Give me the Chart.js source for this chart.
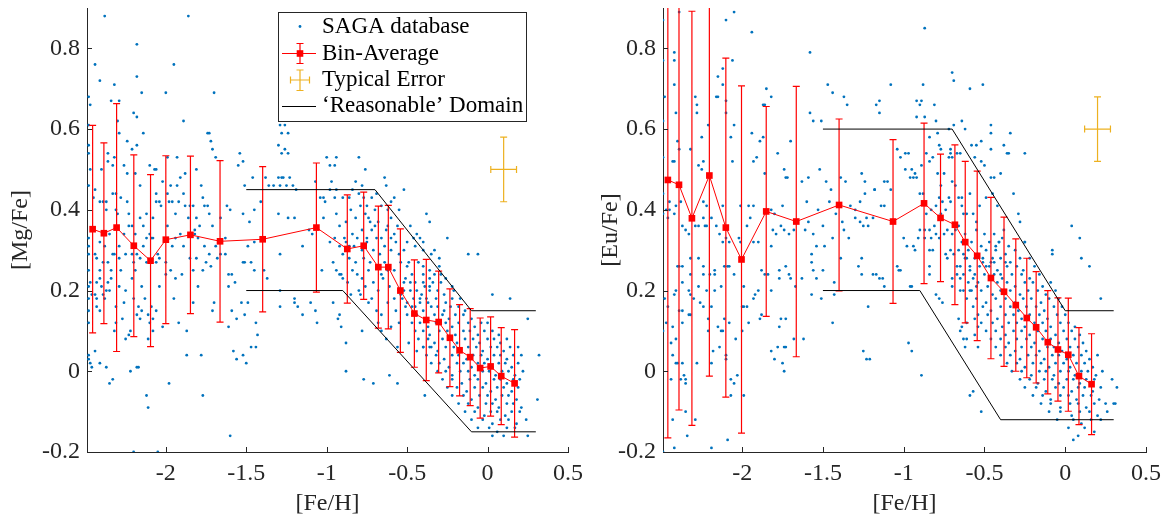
<!DOCTYPE html>
<html>
<head>
<meta charset="utf-8">
<script src="https://cdn.jsdelivr.net/npm/chart.js@4.4.1/dist/chart.umd.min.js"></script>
<style>
  html, body { margin: 0; padding: 0; background: #fff; }
  #wrap { position: relative; width: 1173px; height: 519px; }
  canvas { position: absolute; top: 0; }
  #mgChart { left: 0; }
  #euChart { left: 590px; }
</style>
</head>
<body>
<div id="wrap">
  <canvas id="mgChart" width="592" height="519"></canvas>
  <canvas id="euChart" width="583" height="519"></canvas>
</div>
<script>
// Axis ranges and ticks
const xMin = -2.49, xMax = 0.5;
const yMin = -0.2, yMax = 0.9;
const xTicks = [-2, -1.5, -1, -0.5, 0, 0.5];
const yTicks = [-0.2, 0, 0.2, 0.4, 0.6, 0.8];

// Bin averages for [Mg/Fe]
const mgBinFeH = [-2.455, -2.385, -2.306, -2.199, -2.095, -2.0, -1.847, -1.663, -1.398, -1.064, -0.872, -0.770, -0.679, -0.617, -0.542, -0.455, -0.381, -0.304, -0.234, -0.174, -0.108, -0.046, 0.019, 0.085, 0.168];
const mgBinMean = [0.352, 0.342, 0.356, 0.311, 0.274, 0.326, 0.338, 0.322, 0.327, 0.356, 0.303, 0.311, 0.258, 0.258, 0.200, 0.143, 0.127, 0.122, 0.083, 0.052, 0.035, 0.008, 0.012, -0.012, -0.030];
const mgBinErr = [0.257, 0.224, 0.307, 0.225, 0.213, 0.208, 0.195, 0.200, 0.180, 0.160, 0.134, 0.133, 0.151, 0.153, 0.153, 0.133, 0.150, 0.126, 0.121, 0.113, 0.120, 0.124, 0.123, 0.120, 0.133];

// Bin averages for [Eu/Fe]
const euBinFeH = [-2.46, -2.391, -2.311, -2.203, -2.101, -2.004, -1.851, -1.665, -1.40, -1.066, -0.874, -0.772, -0.683, -0.619, -0.545, -0.46, -0.379, -0.306, -0.238, -0.18, -0.108, -0.045, 0.019, 0.085, 0.163];
const euBinMean = [0.474, 0.462, 0.379, 0.485, 0.356, 0.277, 0.396, 0.371, 0.412, 0.371, 0.416, 0.380, 0.363, 0.320, 0.286, 0.231, 0.197, 0.164, 0.132, 0.109, 0.072, 0.054, 0.041, -0.012, -0.032];
const euBinErr = [0.639, 0.558, 0.513, 0.497, 0.42, 0.43, 0.26, 0.335, 0.213, 0.203, 0.199, 0.158, 0.198, 0.20, 0.21, 0.20, 0.185, 0.164, 0.148, 0.138, 0.128, 0.128, 0.14, 0.12, 0.125];

// 'Reasonable' domain corners
const mgDomainUpperX = [-1.5, -0.7, -0.1, 0.3];
const mgDomainUpperY = [0.45, 0.45, 0.15, 0.15];
const mgDomainLowerX = [-1.5, -0.9, -0.1, 0.3];
const mgDomainLowerY = [0.2, 0.2, -0.15, -0.15];
const euDomainUpperX = [-1.5, -0.7, 0.0, 0.3];
const euDomainUpperY = [0.6, 0.6, 0.15, 0.15];
const euDomainLowerX = [-1.5, -0.9, -0.4, 0.3];
const euDomainLowerY = [0.2, 0.2, -0.12, -0.12];

// Typical error: [x, y, dx, dy]
const mgTypical = [0.1, 0.5, 0.08, 0.08];
const euTypical = [0.2, 0.6, 0.08, 0.08];

// SAGA database stars, [Fe/H] vs [Mg/Fe]
const sagaMg = [
  [-2.38,0.88],[-1.86,0.88],[-2.18,0.81],[-2.44,0.76],[-1.95,0.76],[-2.41,0.72],[-2.32,0.71],[-2.18,0.73],[-2.48,0.68],[-2.47,0.66],
  [-2.15,0.69],[-2.00,0.69],[-1.70,0.69],[-2.34,0.67],[-2.29,0.67],[-2.20,0.64],[-2.18,0.63],[-1.89,0.62],[-2.48,0.61],[-2.30,0.62],
  [-2.29,0.59],[-2.14,0.59],[-1.74,0.59],[-1.73,0.59],[-2.24,0.57],[-2.21,0.55],[-2.18,0.56],[-1.72,0.57],[-1.71,0.55],[-2.48,0.56],
  [-2.48,0.54],[-2.36,0.54],[-2.36,0.52],[-2.32,0.53],[-1.99,0.53],[-1.93,0.53],[-1.69,0.53],[-1.54,0.54],[-1.52,0.52],[-1.55,0.51],
  [-2.33,0.51],[-2.26,0.51],[-2.10,0.51],[-2.07,0.50],[-2.06,0.50],[-2.47,0.50],[-2.40,0.50],[-2.24,0.49],[-2.19,0.49],[-1.88,0.49],
  [-1.81,0.50],[-2.48,0.46],[-2.44,0.45],[-2.45,0.43],[-2.41,0.42],[-2.39,0.42],[-2.37,0.42],[-2.37,0.40],[-2.33,0.44],[-2.31,0.44],
  [-2.31,0.40],[-2.30,0.39],[-2.28,0.43],[-2.24,0.42],[-2.23,0.39],[-2.23,0.36],[-2.21,0.36],[-2.16,0.46],[-2.16,0.38],[-2.14,0.36],
  [-2.12,0.39],[-2.10,0.34],[-2.09,0.33],[-2.08,0.38],[-2.06,0.44],[-2.06,0.42],[-2.04,0.42],[-2.03,0.41],[-2.02,0.47],[-1.99,0.44],
  [-1.98,0.42],[-1.97,0.46],[-1.96,0.42],[-1.94,0.39],[-1.93,0.46],[-1.92,0.42],[-1.91,0.48],[-1.89,0.44],[-1.88,0.41],[-1.86,0.38],
  [-1.85,0.41],[-1.83,0.41],[-1.81,0.38],[-1.78,0.46],[-1.77,0.43],[-1.76,0.41],[-1.74,0.41],[-1.73,0.39],[-1.82,0.35],[-1.79,0.36],
  [-1.71,0.36],[-1.66,0.38],[-1.62,0.41],[-1.60,0.40],[-1.63,0.33],[-1.52,0.39],[-1.51,0.46],[-1.46,0.48],[-1.48,0.37],[-1.49,0.31],
  [-1.45,0.40],[-1.41,0.42],[-1.38,0.48],[-1.36,0.46],[-1.33,0.46],[-1.30,0.48],[-1.29,0.46],[-1.28,0.48],[-1.25,0.46],[-1.30,0.39],
  [-1.24,0.38],[-1.30,0.56],[-1.28,0.54],[-1.29,0.61],[-1.28,0.59],[-1.45,0.32],[-2.48,0.33],[-2.48,0.31],[-2.44,0.29],[-2.41,0.32],
  [-2.38,0.31],[-2.35,0.34],[-2.33,0.29],[-2.29,0.31],[-2.26,0.34],[-2.25,0.29],[-2.19,0.34],[-2.18,0.29],[-2.14,0.31],[-2.12,0.33],
  [-2.08,0.33],[-2.05,0.29],[-2.04,0.28],[-1.99,0.36],[-1.96,0.31],[-1.94,0.33],[-1.91,0.34],[-1.89,0.31],[-1.82,0.34],[-1.80,0.33],
  [-1.76,0.31],[-1.73,0.29],[-1.69,0.31],[-1.66,0.29],[-2.48,0.29],[-2.43,0.28],[-2.39,0.27],[-2.36,0.27],[-2.32,0.29],[-2.29,0.28],
  [-2.21,0.29],[-2.16,0.28],[-2.12,0.27],[-2.06,0.27],[-2.00,0.27],[-1.97,0.25],[-1.94,0.23],[-1.90,0.24],[-1.85,0.28],[-1.83,0.25],
  [-1.81,0.28],[-1.77,0.25],[-1.75,0.27],[-1.72,0.26],[-1.68,0.28],[-1.63,0.29],[-1.61,0.24],[-1.59,0.24],[-1.61,0.21],[-1.57,0.22],
  [-1.52,0.27],[-1.51,0.27],[-1.47,0.27],[-1.45,0.25],[-1.39,0.25],[-1.37,0.23],[-1.29,0.29],[-1.29,0.20],[-1.29,0.16],[-1.20,0.18],
  [-1.18,0.16],[-2.48,0.25],[-2.48,0.21],[-2.48,0.18],[-2.48,0.15],[-2.48,0.12],[-2.47,0.22],[-2.46,0.19],[-2.44,0.19],[-2.43,0.18],
  [-2.43,0.16],[-2.43,0.22],[-2.41,0.25],[-2.41,0.15],[-2.41,0.23],[-2.40,0.21],[-2.39,0.19],[-2.38,0.18],[-2.37,0.20],[-2.36,0.22],
  [-2.35,0.20],[-2.34,0.25],[-2.34,0.23],[-2.32,0.10],[-2.31,0.12],[-2.31,0.16],[-2.29,0.21],[-2.28,0.25],[-2.27,0.13],[-2.26,0.17],
  [-2.25,0.08],[-2.25,0.20],[-2.23,0.09],[-2.22,0.10],[-2.21,0.23],[-2.20,0.27],[-2.20,0.18],[-2.19,0.25],[-2.18,0.14],[-2.17,0.16],
  [-2.16,0.13],[-2.15,0.15],[-2.15,0.21],[-2.13,0.18],[-2.11,0.14],[-2.11,0.08],[-2.10,0.12],[-2.09,0.16],[-2.08,0.13],[-2.08,0.10],
  [-2.06,0.15],[-2.04,0.21],[-2.02,0.11],[-2.00,0.24],[-1.95,0.18],[-1.92,0.12],[-1.87,0.10],[-1.83,0.17],[-1.80,0.21],[-1.71,0.15],
  [-1.70,0.17],[-1.61,0.11],[-1.59,0.15],[-1.56,0.13],[-1.53,0.17],[-1.51,0.14],[-1.49,0.17],[-2.48,0.04],[-2.48,0.03],[-2.47,0.02],
  [-2.46,0.01],[-2.44,0.05],[-2.41,0.02],[-2.37,0.01],[-2.35,-0.03],[-2.33,-0.02],[-2.22,0.00],[-2.18,0.01],[-2.17,0.01],[-2.12,-0.06],
  [-2.11,-0.09],[-2.20,-0.20],[-2.05,-0.20],[-1.98,-0.03],[-1.87,0.04],[-1.78,0.04],[-1.77,-0.06],[-1.60,-0.16],[-1.58,0.05],[-1.56,0.03],
  [-1.52,0.04],[-1.50,0.02],[-1.44,0.06],[-1.43,0.09],[-1.44,0.12],[-1.47,0.06],
  [-1.00,0.53],[-0.94,0.53],[-0.98,0.51],[-0.95,0.51],[-0.97,0.47],[-0.94,0.45],[-0.98,0.45],[-1.02,0.43],[-0.95,0.43],[-0.90,0.43],
  [-0.86,0.43],[-0.80,0.53],[-0.76,0.50],[-0.78,0.46],[-0.82,0.47],[-0.77,0.43],[-0.72,0.43],[-0.69,0.44],[-1.02,0.38],[-0.94,0.39],
  [-0.95,0.33],[-0.89,0.33],[-0.84,0.34],[-0.81,0.33],[-0.78,0.35],[-0.75,0.33],[-0.72,0.35],[-0.69,0.33],[-0.66,0.33],[-0.63,0.35],
  [-0.60,0.33],[-0.57,0.32],[-0.98,0.32],[-0.92,0.31],[-0.88,0.32],[-0.83,0.31],[-0.75,0.32],[-0.71,0.30],[-0.67,0.29],[-0.64,0.31],
  [-0.60,0.30],[-0.55,0.29],[-0.52,0.30],[-0.49,0.27],[-0.46,0.33],[-0.42,0.33],[-0.91,0.24],[-0.90,0.23],[-0.84,0.25],[-0.81,0.24],
  [-0.78,0.23],[-0.74,0.25],[-0.71,0.22],[-0.65,0.23],[-0.61,0.21],[-0.58,0.25],[-0.51,0.23],[-0.48,0.22],[-0.44,0.20],[-0.40,0.22],
  [-0.36,0.21],[-0.85,0.19],[-0.80,0.20],[-0.79,0.19],[-0.74,0.17],[-0.69,0.15],[-0.66,0.14],[-0.62,0.17],[-0.58,0.18],[-0.54,0.19],
  [-0.50,0.17],[-0.47,0.16],[-0.42,0.18],[-0.37,0.17],[-0.93,0.13],[-0.91,0.11],[-0.78,0.10],[-0.88,0.07],[-0.66,0.10],[-0.63,0.08],
  [-0.56,0.06],[-0.49,0.07],[-0.44,0.05],[-0.40,0.06],[-0.36,0.06],[-1.26,0.61],[-1.24,0.59],[-1.26,0.55],[-1.24,0.54],[-1.27,0.48],
  [-1.23,0.48],[-1.21,0.46],[-1.19,0.45],[-1.07,0.47],[-1.04,0.43],[-1.01,0.42],[-0.64,0.48],[-0.63,0.46],[-0.52,0.45],[-0.38,0.39],
  [-0.36,0.37],[-0.25,0.33],[-0.12,0.29],[-0.06,0.29],[-1.20,0.38],[-1.15,0.31],[-1.09,0.34],[-1.11,0.35],[-0.88,0.00],[-0.77,-0.02],
  [-0.71,-0.03],[-0.61,-0.01],[-0.56,-0.03],[-0.39,-0.06],[-1.03,0.25],[-0.94,0.25],[-0.92,0.24],[-1.20,0.17],[-1.15,0.14],[-1.10,0.17],
  [-1.07,0.15],[-1.06,0.12],[-0.96,0.17],[-0.92,0.14],[0.03,0.19],[0.14,0.18],[0.25,0.13],[0.32,0.04],[0.31,-0.07],[0.25,-0.16],
  [-0.55,0.40],[-0.60,0.38],[-0.48,0.36],[-0.44,0.34],[-0.56,0.36],[-0.50,0.32],[-0.45,0.31],[-0.40,0.30],[-0.35,0.29],[-0.30,0.28],
  [-0.40,0.32],[-0.33,0.30],[-0.58,0.43],[-0.66,0.41],[-0.70,0.40],[-0.74,0.38],[-0.68,0.37],[-0.62,0.36],[-0.58,0.34],[-0.88,0.37],
  [-0.85,0.40],[-0.82,0.38],[-0.79,0.41],[-0.76,0.39],[-0.73,0.37],[-0.70,0.36],[-0.86,0.28],[-0.82,0.27],[-0.77,0.28],[-0.73,0.27],
  [-0.69,0.26],[-0.64,0.27],[-0.62,0.25],[-0.87,0.22],[-0.76,0.21],[-0.68,0.20],[-0.66,0.24],[-0.62,0.40],[-0.60,0.42],[-0.84,0.45],
  [-0.80,0.44],[-0.75,0.41],[-0.92,0.36],[-0.90,0.29],[-0.96,0.27],[-0.86,0.31],[-0.78,0.30],[-0.54,0.27],[-0.52,0.20],[-0.57,0.15],
  [-0.55,0.12],[-0.60,0.11],[-0.68,0.12],[-0.72,0.18],
  [-0.50,0.26],[-0.43,0.27],[-0.40,0.26],[-0.36,0.25],[-0.30,0.26],[-0.47,0.24],[-0.40,0.24],[-0.36,0.23],[-0.33,0.24],[-0.29,0.24],
  [-0.26,0.23],[-0.52,0.22],[-0.45,0.22],[-0.39,0.21],[-0.34,0.22],[-0.29,0.22],[-0.22,0.21],[-0.55,0.20],[-0.48,0.20],[-0.41,0.19],
  [-0.36,0.20],[-0.31,0.20],[-0.27,0.19],[-0.21,0.20],[-0.53,0.18],[-0.46,0.18],[-0.42,0.17],[-0.38,0.18],[-0.32,0.18],[-0.26,0.17],
  [-0.22,0.18],[-0.17,0.18],[-0.51,0.16],[-0.45,0.16],[-0.40,0.15],[-0.35,0.16],[-0.31,0.16],[-0.27,0.15],[-0.23,0.16],[-0.18,0.16],
  [-0.14,0.15],[-0.50,0.14],[-0.44,0.14],[-0.39,0.13],[-0.33,0.14],[-0.28,0.14],[-0.24,0.13],[-0.20,0.14],[-0.15,0.14],[-0.10,0.13],
  [-0.47,0.12],[-0.42,0.12],[-0.37,0.11],[-0.32,0.12],[-0.26,0.12],[-0.22,0.11],[-0.18,0.12],[-0.12,0.12],[-0.08,0.11],[-0.04,0.12],
  [0.00,0.12],[-0.45,0.10],[-0.40,0.10],[-0.36,0.09],[-0.30,0.10],[-0.25,0.10],[-0.20,0.09],[-0.15,0.10],[-0.11,0.10],[-0.06,0.09],
  [-0.02,0.10],[0.03,0.10],[0.07,0.09],[-0.43,0.08],[-0.37,0.08],[-0.33,0.07],[-0.28,0.08],[-0.23,0.08],[-0.19,0.07],[-0.14,0.08],
  [-0.09,0.08],[-0.05,0.07],[0.00,0.08],[0.04,0.08],[0.08,0.07],[0.12,0.08],[-0.40,0.06],[-0.35,0.06],[-0.31,0.05],[-0.26,0.06],
  [-0.21,0.06],[-0.17,0.05],[-0.12,0.06],[-0.07,0.06],[-0.03,0.05],[0.02,0.06],[0.06,0.06],[0.10,0.05],[0.14,0.06],[0.19,0.06],
  [-0.38,0.04],[-0.32,0.04],[-0.27,0.03],[-0.22,0.04],[-0.18,0.04],[-0.13,0.03],[-0.09,0.04],[-0.04,0.04],[0.00,0.03],[0.04,0.04],
  [0.08,0.04],[0.12,0.03],[0.16,0.04],[0.21,0.04],[-0.35,0.02],[-0.30,0.02],[-0.24,0.01],[-0.19,0.02],[-0.15,0.02],[-0.10,0.01],
  [-0.06,0.02],[-0.02,0.02],[0.03,0.01],[0.07,0.02],[0.11,0.02],[0.15,0.01],[0.19,0.02],[-0.31,0.00],[-0.26,0.00],[-0.22,-0.01],
  [-0.17,0.00],[-0.12,0.00],[-0.08,-0.01],[-0.03,0.00],[0.01,0.00],[0.05,-0.01],[0.09,0.00],[0.13,0.00],[0.17,-0.01],[0.22,0.00],
  [-0.28,-0.02],[-0.22,-0.02],[-0.16,-0.03],[-0.11,-0.02],[-0.06,-0.02],[-0.01,-0.03],[0.04,-0.02],[0.08,-0.02],[0.12,-0.03],[0.16,-0.02],
  [0.20,-0.02],[-0.25,-0.04],[-0.19,-0.04],[-0.13,-0.05],[-0.08,-0.04],[-0.03,-0.04],[0.02,-0.05],[0.06,-0.04],[0.10,-0.04],[0.15,-0.05],
  [0.19,-0.04],[-0.22,-0.06],[-0.15,-0.06],[-0.10,-0.07],[-0.05,-0.06],[0.00,-0.06],[0.05,-0.07],[0.09,-0.06],[0.13,-0.06],[0.18,-0.07],
  [-0.18,-0.08],[-0.12,-0.08],[-0.06,-0.09],[-0.01,-0.08],[0.03,-0.08],[0.07,-0.09],[0.12,-0.08],[0.16,-0.08],[0.21,-0.09],[-0.14,-0.10],
  [-0.08,-0.10],[-0.02,-0.11],[0.02,-0.10],[0.06,-0.10],[0.11,-0.11],[0.15,-0.10],[0.20,-0.10],[-0.10,-0.12],[-0.03,-0.12],[0.03,-0.13],
  [0.08,-0.12],[0.13,-0.12],[0.18,-0.13],[0.24,-0.12],[-0.06,-0.14],[0.01,-0.14],[0.06,-0.15],[0.12,-0.14],[0.17,-0.14],[0.03,-0.16],
  [0.10,-0.16]
];

// SAGA database stars, [Fe/H] vs [Eu/Fe]
const sagaEu = [
  [-2.39,0.89],[-2.05,0.89],[-2.10,0.87],[-2.49,0.87],[-1.94,0.84],[-2.42,0.79],[-2.49,0.77],[-2.42,0.77],[-2.06,0.77],[-1.58,0.79],
  [-2.12,0.75],[-2.15,0.73],[-2.12,0.71],[-2.42,0.71],[-1.47,0.71],[-1.44,0.69],[-1.85,0.70],[-1.82,0.68],[-1.37,0.68],[-1.35,0.66],
  [-2.48,0.68],[-2.29,0.68],[-2.28,0.66],[-2.16,0.68],[-2.15,0.68],[-2.10,0.67],[-2.28,0.64],[-2.41,0.64],[-2.10,0.64],[-1.87,0.66],
  [-1.86,0.66],[-1.58,0.64],[-1.56,0.62],[-1.51,0.62],[-2.49,0.62],[-2.21,0.61],[-2.05,0.61],[-2.07,0.58],[-2.25,0.58],[-1.94,0.59],
  [-1.89,0.57],[-1.87,0.58],[-1.70,0.57],[-2.40,0.57],[-2.32,0.55],[-2.39,0.55],[-2.49,0.53],[-2.43,0.52],[-2.42,0.52],[-2.06,0.52],
  [-2.27,0.51],[-2.24,0.52],[-2.25,0.50],[-1.93,0.52],[-1.91,0.53],[-1.86,0.49],[-1.78,0.54],[-1.74,0.50],[-1.73,0.48],[-1.72,0.48],
  [-1.63,0.47],[-1.59,0.48],[-1.52,0.50],[-1.48,0.47],[-1.45,0.45],[-1.39,0.48],[-1.36,0.47],[-1.26,0.49],[-1.24,0.47],[-1.24,0.44],
  [-1.18,0.45],[-1.12,0.47],[-2.49,0.44],[-2.45,0.42],[-2.41,0.41],[-2.47,0.40],[-2.45,0.40],[-2.38,0.42],[-2.24,0.42],[-2.22,0.41],
  [-2.12,0.41],[-2.01,0.41],[-1.96,0.41],[-1.93,0.41],[-1.82,0.40],[-1.80,0.39],[-1.75,0.41],[-1.60,0.42],[-1.53,0.40],[-1.46,0.42],
  [-1.42,0.39],[-1.38,0.37],[-1.33,0.41],[-1.30,0.40],[-1.27,0.42],[-1.23,0.38],[-1.22,0.36],[-2.46,0.38],[-2.49,0.39],[-2.42,0.39],
  [-2.37,0.36],[-2.35,0.35],[-2.33,0.34],[-2.29,0.36],[-2.27,0.36],[-2.24,0.38],[-2.23,0.36],[-2.22,0.36],[-2.19,0.38],[-2.16,0.36],
  [-2.14,0.34],[-2.12,0.32],[-2.10,0.33],[-2.08,0.32],[-2.02,0.33],[-2.01,0.32],[-1.97,0.36],[-1.95,0.38],[-1.93,0.32],[-1.90,0.32],
  [-1.82,0.31],[-1.81,0.35],[-1.79,0.34],[-1.76,0.36],[-1.74,0.35],[-1.71,0.34],[-1.68,0.35],[-1.61,0.35],[-1.59,0.37],[-1.56,0.34],
  [-1.54,0.31],[-1.50,0.36],[-1.49,0.31],[-1.44,0.33],[-1.37,0.35],[-1.34,0.33],[-1.30,0.38],[-1.27,0.37],[-1.25,0.36],[-1.19,0.38],
  [-1.14,0.41],
  [-2.48,0.18],[-2.49,0.10],[-2.47,0.12],[-2.46,0.16],[-2.44,0.07],[-2.43,0.04],[-2.43,0.11],[-2.44,-0.02],[-2.43,-0.12],[-2.42,-0.19],
  [-2.49,-0.20],[-2.42,0.19],[-2.41,0.20],[-2.41,0.08],[-2.41,0.02],[-2.40,0.02],[-2.40,0.26],[-2.39,0.26],[-2.39,0.15],[-2.38,-0.02],
  [-2.37,0.12],[-2.37,0.15],[-2.37,0.22],[-2.37,0.26],[-2.37,0.02],[-2.36,-0.01],[-2.35,-0.02],[-2.35,-0.03],[-2.35,-0.10],[-2.34,-0.16],
  [-2.33,0.20],[-2.33,0.14],[-2.32,0.14],[-2.32,0.24],[-2.32,0.28],[-2.32,0.19],[-2.30,0.18],[-2.29,-0.12],[-2.28,0.02],[-2.27,0.21],
  [-2.27,0.28],[-2.26,0.17],[-2.24,0.16],[-2.24,0.26],[-2.24,0.24],[-2.22,0.20],[-2.21,0.10],[-2.21,0.13],[-2.20,0.24],[-2.19,0.16],
  [-2.19,0.02],[-2.19,-0.19],[-2.18,0.05],[-2.17,0.25],[-2.17,0.24],[-2.17,0.20],[-2.15,0.11],[-2.14,0.06],[-2.13,0.21],[-2.13,0.10],
  [-2.12,0.10],[-2.11,0.13],[-2.11,0.26],[-2.10,0.03],[-2.10,0.04],[-2.09,0.26],[-2.08,0.26],[-2.09,-0.17],[-2.08,0.12],[-2.07,-0.02],
  [-2.07,-0.06],[-2.05,-0.03],[-2.03,-0.01],[-2.04,0.08],[-2.05,0.24],[-2.00,0.16],[-1.99,0.16],[-1.99,0.21],[-1.99,-0.06],[-2.00,0.10],
  [-1.97,0.16],[-1.96,0.12],[-1.93,0.18],[-1.92,0.19],[-1.90,0.20],[-1.89,0.13],[-1.88,0.14],[-1.88,0.25],[-1.86,0.24],[-1.84,0.24],
  [-1.82,0.20],[-1.82,0.05],[-1.80,0.03],[-1.78,0.06],[-1.77,0.25],[-1.77,0.23],[-1.77,0.11],[-1.76,0.13],[-1.73,0.13],[-1.75,0.02],
  [-1.74,0.06],[-1.73,0.06],[-1.74,0.00],[-1.73,0.26],[-1.71,0.24],[-1.70,0.23],[-1.68,0.08],[-1.67,0.21],[-1.63,0.23],[-1.62,0.08],
  [-1.57,0.29],[-1.57,0.19],[-1.57,0.27],[-1.56,0.25],[-1.54,0.23],[-1.51,0.18],[-1.50,0.25],[-1.44,0.12],[-1.43,0.19],[-1.43,0.22],
  [-1.39,0.28],[-1.28,0.26],[-1.26,0.28],[-1.26,0.24],[-1.25,0.05],[-1.23,0.03],[-1.22,0.16],[-1.19,0.24],[-1.15,0.23],[-1.12,0.21],
  [-0.87,0.85],[-0.70,0.74],[-0.69,0.72],[-0.59,0.70],[-0.51,0.71],[-1.08,0.71],[-0.88,0.71],[-1.15,0.67],[-1.17,0.66],[-1.15,0.64],
  [-0.92,0.67],[-0.89,0.67],[-0.90,0.66],[-0.81,0.66],[-0.92,0.63],[-0.87,0.63],[-0.80,0.62],[-0.72,0.60],[-0.69,0.61],[-0.64,0.62],
  [-0.62,0.60],[-0.46,0.61],[-0.46,0.59],[-0.34,0.59],[-0.84,0.58],[-0.79,0.59],[-0.78,0.56],[-0.77,0.55],[-0.71,0.55],[-0.71,0.54],
  [-1.04,0.55],[-1.02,0.53],[-0.99,0.54],[-0.97,0.54],[-0.86,0.54],[-0.82,0.53],[-0.72,0.53],[-0.70,0.53],[-0.67,0.54],[-0.65,0.54],
  [-0.58,0.56],[-0.55,0.56],[-0.52,0.57],[-0.46,0.55],[-0.56,0.53],[-0.52,0.52],[-0.50,0.51],[-0.38,0.56],[-0.36,0.54],[-0.35,0.54],
  [-0.25,0.54],[-0.40,0.49],[-0.46,0.48],[-0.44,0.48],[-1.18,0.45],[-1.10,0.47],[-1.08,0.45],[-1.12,0.41],[-0.99,0.50],[-0.95,0.50],
  [-0.93,0.49],[-0.94,0.48],[-0.92,0.48],[-0.89,0.51],[-0.84,0.52],[-0.79,0.49],[-0.75,0.49],[-0.96,0.48],[-0.77,0.46],[-0.70,0.47],
  [-0.68,0.46],[-0.72,0.43],[-0.71,0.42],[-0.66,0.43],[-0.64,0.43],[-0.59,0.44],[-0.64,0.41],[-0.63,0.39],[-0.61,0.39],[-0.57,0.39],
  [-0.55,0.37],[-0.53,0.41],[-0.49,0.43],[-0.45,0.44],[-0.42,0.41],[-0.32,0.44],[-0.29,0.39],[-0.28,0.37],[-0.25,0.32],[-0.08,0.30],
  [0.04,0.36],[0.10,0.28],[-1.00,0.33],[-0.98,0.31],[-0.94,0.31],[-0.93,0.30],[-0.91,0.33],[-0.90,0.35],[-0.87,0.35],[-0.84,0.35],
  [-0.81,0.36],[-0.80,0.34],[-0.78,0.33],[-0.75,0.34],[-0.73,0.35],[-0.70,0.34],[-0.68,0.35],[-0.66,0.36],[-0.78,0.43],[-0.76,0.42],
  [-0.74,0.40],[-0.77,0.39],[-0.80,0.41],[-0.83,0.40],[-0.86,0.39],[-0.90,0.44],[-0.88,0.44],[-0.87,0.33],[-0.83,0.33],[-0.84,0.30],
  [-0.82,0.30],[-0.84,0.26],[-0.84,0.24],[-0.74,0.29],[-0.73,0.28],[-0.71,0.30],[-0.69,0.29],[-0.67,0.26],[-0.67,0.24],[-0.63,0.29],
  [-0.61,0.28],[-0.59,0.26],[-0.56,0.24],[-0.51,0.28],[-0.49,0.26],[-0.46,0.27],[-0.44,0.27],[-0.40,0.24],[-0.37,0.27],[-1.04,0.26],
  [-1.03,0.25],[-0.95,0.21],[-1.13,0.23],[-0.80,0.19],[-0.78,0.18],[-0.70,0.23],[-0.70,0.21],[-0.65,0.23],[-0.65,0.20],[-0.63,0.20],
  [-0.59,0.20],[-0.55,0.21],[-0.39,0.33],[-0.41,0.32],[-0.43,0.31],
  [0.32,-0.04],[0.31,-0.08],[0.29,-0.02],[0.05,-0.17],[-0.57,-0.05],[-0.52,-0.10],[-0.59,-0.06],[-0.89,-0.01],[-0.97,0.07],[-0.95,0.05],
  [-1.21,0.03],[-1.17,0.24],[-1.02,0.25],[-0.96,0.21],[-0.76,0.17],[-0.66,0.13],[-0.64,0.11],[-0.65,0.10],[-0.61,0.12],[-0.63,0.08],
  [-0.61,0.08],[-0.62,0.06],[-0.56,0.13],[-0.54,0.11],[-0.56,0.09],[-0.54,0.06],[0.09,0.33],[0.15,0.26],[0.22,0.18],[-0.08,0.29],
  [-0.62,0.34],[-0.55,0.35],[-0.50,0.34],[-0.44,0.34],[-0.38,0.35],[-0.64,0.32],[-0.58,0.32],[-0.52,0.31],[-0.47,0.32],[-0.41,0.32],
  [-0.35,0.31],[-0.25,0.32],[-0.66,0.30],[-0.60,0.30],[-0.54,0.29],[-0.49,0.30],[-0.43,0.30],[-0.37,0.29],[-0.31,0.30],[-0.62,0.28],
  [-0.56,0.28],[-0.51,0.27],[-0.45,0.28],[-0.40,0.28],[-0.34,0.27],[-0.28,0.28],[-0.22,0.28],[-0.65,0.26],[-0.59,0.25],[-0.53,0.26],
  [-0.47,0.26],[-0.42,0.25],[-0.36,0.26],[-0.30,0.26],[-0.26,0.25],[-0.19,0.26],[-0.63,0.24],[-0.57,0.23],[-0.50,0.24],[-0.44,0.24],
  [-0.39,0.23],[-0.33,0.24],[-0.27,0.24],[-0.22,0.23],[-0.16,0.24],[-0.60,0.22],[-0.54,0.22],[-0.48,0.21],[-0.42,0.22],[-0.36,0.22],
  [-0.31,0.21],[-0.25,0.22],[-0.20,0.22],[-0.14,0.21],[-0.09,0.22],[-0.58,0.20],[-0.52,0.20],[-0.45,0.19],[-0.40,0.20],[-0.34,0.20],
  [-0.28,0.19],[-0.23,0.20],[-0.17,0.20],[-0.12,0.19],[-0.06,0.20],[-0.61,0.18],[-0.55,0.18],[-0.49,0.17],[-0.43,0.18],[-0.37,0.18],
  [-0.31,0.17],[-0.26,0.18],[-0.21,0.18],[-0.15,0.17],[-0.10,0.18],[-0.04,0.18],[-0.57,0.16],[-0.51,0.16],[-0.46,0.15],[-0.40,0.16],
  [-0.34,0.16],[-0.29,0.15],[-0.24,0.16],[-0.18,0.16],[-0.13,0.15],[-0.07,0.16],[-0.02,0.16],[-0.54,0.14],[-0.48,0.14],[-0.42,0.13],
  [-0.37,0.14],[-0.32,0.14],[-0.27,0.13],[-0.22,0.14],[-0.16,0.14],[-0.11,0.13],[-0.05,0.14],[0.00,0.14],[-0.52,0.12],[-0.45,0.12],
  [-0.39,0.11],[-0.35,0.12],[-0.30,0.12],[-0.25,0.11],[-0.19,0.12],[-0.14,0.12],[-0.09,0.11],[-0.03,0.12],[0.02,0.12],[0.06,0.11],
  [-0.49,0.10],[-0.43,0.10],[-0.37,0.09],[-0.32,0.10],[-0.27,0.10],[-0.22,0.09],[-0.17,0.10],[-0.12,0.10],[-0.06,0.09],[-0.01,0.10],
  [0.04,0.10],[0.09,0.09],[-0.46,0.08],[-0.40,0.08],[-0.35,0.07],[-0.30,0.08],[-0.24,0.08],[-0.19,0.07],[-0.14,0.08],[-0.09,0.08],
  [-0.04,0.07],[0.01,0.08],[0.06,0.08],[0.11,0.07],[-0.43,0.06],[-0.37,0.06],[-0.31,0.05],[-0.27,0.06],[-0.21,0.06],[-0.16,0.05],
  [-0.11,0.06],[-0.07,0.06],[-0.02,0.05],[0.03,0.06],[0.08,0.06],[0.13,0.05],[-0.40,0.04],[-0.34,0.04],[-0.28,0.03],[-0.23,0.04],
  [-0.18,0.04],[-0.13,0.03],[-0.08,0.04],[-0.04,0.04],[0.01,0.03],[0.05,0.04],[0.10,0.04],[0.15,0.03],[0.20,0.04],[-0.36,0.02],
  [-0.30,0.02],[-0.25,0.01],[-0.20,0.02],[-0.15,0.02],[-0.10,0.01],[-0.06,0.02],[-0.01,0.02],[0.03,0.01],[0.07,0.02],[0.12,0.02],
  [0.17,0.01],[-0.33,0.00],[-0.27,0.00],[-0.21,-0.01],[-0.16,0.00],[-0.12,0.00],[-0.07,-0.01],[-0.03,0.00],[0.02,0.00],[0.06,-0.01],
  [0.10,0.00],[0.14,0.00],[0.19,-0.01],[0.23,0.00],[-0.28,-0.02],[-0.22,-0.02],[-0.17,-0.03],[-0.13,-0.02],[-0.08,-0.02],[-0.04,-0.03],
  [0.01,-0.02],[0.05,-0.02],[0.09,-0.03],[0.13,-0.02],[0.18,-0.02],[-0.25,-0.04],[-0.18,-0.04],[-0.12,-0.05],[-0.06,-0.04],[-0.01,-0.04],
  [0.04,-0.05],[0.08,-0.04],[0.12,-0.04],[0.17,-0.05],[0.22,-0.04],[-0.20,-0.06],[-0.14,-0.06],[-0.09,-0.07],[-0.03,-0.06],[0.02,-0.06],
  [0.07,-0.07],[0.11,-0.06],[0.16,-0.06],[0.21,-0.07],[-0.15,-0.08],[-0.09,-0.08],[-0.03,-0.09],[0.03,-0.08],[0.08,-0.08],[0.13,-0.09],
  [0.18,-0.08],[0.25,-0.08],[0.30,-0.08],[-0.10,-0.10],[-0.03,-0.10],[0.04,-0.11],[0.09,-0.10],[0.15,-0.10],[0.20,-0.11],[0.26,-0.10],
  [-0.05,-0.12],[0.05,-0.12],[0.10,-0.13],[0.16,-0.12],[0.22,-0.12],[0.02,-0.14],[0.12,-0.14],[0.18,-0.15],[0.08,-0.16]
];

const FONT = "'Liberation Serif', 'Times New Roman', serif";
const AXIS = '#262626';
const BLUE = '#0072BD';
const RED = '#FF0000';
const ORANGE = '#EDB120';

function fmt(v) {
  return String(Number(v.toFixed(2)));
}

function toPoints(xs, ys) {
  return xs.map((x, i) => ({ x: x, y: ys[i] }));
}

// error bars + typical error, drawn right after the SAGA scatter layer
const errorBars = {
  id: 'errorBars',
  afterDatasetDraw(chart, args, opts) {
    if (args.index !== 0) return;
    const { ctx, chartArea: a, scales: { x, y } } = chart;
    const cap = 3.5;
    ctx.save();
    ctx.beginPath();
    ctx.rect(a.left, a.top, a.right - a.left, a.bottom - a.top);
    ctx.clip();

    ctx.strokeStyle = RED;
    ctx.lineWidth = 1.2;
    ctx.beginPath();
    opts.binX.forEach((bx, i) => {
      const px = x.getPixelForValue(bx);
      const top = y.getPixelForValue(opts.binY[i] + opts.binErr[i]);
      const bot = y.getPixelForValue(opts.binY[i] - opts.binErr[i]);
      ctx.moveTo(px, top); ctx.lineTo(px, bot);
      ctx.moveTo(px - cap, top); ctx.lineTo(px + cap, top);
      ctx.moveTo(px - cap, bot); ctx.lineTo(px + cap, bot);
    });
    ctx.stroke();

    const [tx, ty, tdx, tdy] = opts.typical;
    const cx = x.getPixelForValue(tx), cy = y.getPixelForValue(ty);
    const t1 = y.getPixelForValue(ty + tdy), t2 = y.getPixelForValue(ty - tdy);
    const l1 = x.getPixelForValue(tx - tdx), l2 = x.getPixelForValue(tx + tdx);
    ctx.strokeStyle = ORANGE;
    ctx.beginPath();
    ctx.moveTo(cx, t1); ctx.lineTo(cx, t2);
    ctx.moveTo(cx - cap, t1); ctx.lineTo(cx + cap, t1);
    ctx.moveTo(cx - cap, t2); ctx.lineTo(cx + cap, t2);
    ctx.moveTo(l1, cy); ctx.lineTo(l2, cy);
    ctx.moveTo(l1, cy - cap); ctx.lineTo(l1, cy + cap);
    ctx.moveTo(l2, cy - cap); ctx.lineTo(l2, cy + cap);
    ctx.stroke();
    ctx.restore();
  }
};

// MATLAB style ticks pointing into the axes
const inwardTicks = {
  id: 'inwardTicks',
  afterDraw(chart) {
    const { ctx, chartArea: a, scales: { x, y } } = chart;
    ctx.save();
    ctx.strokeStyle = AXIS;
    ctx.lineWidth = 1;
    ctx.beginPath();
    x.ticks.forEach(t => {
      const px = Math.round(x.getPixelForValue(t.value)) + 0.5;
      ctx.moveTo(px, a.bottom); ctx.lineTo(px, a.bottom - 5);
    });
    y.ticks.forEach(t => {
      const py = Math.round(y.getPixelForValue(t.value)) + 0.5;
      ctx.moveTo(a.left, py); ctx.lineTo(a.left + 5, py);
    });
    ctx.stroke();
    ctx.restore();
  }
};

// legend box in the left panel
const legendBox = {
  id: 'legendBox',
  afterDraw(chart) {
    const ctx = chart.ctx;
    const bx = 278.5, by = 12.5, bw = 248, bh = 109;
    ctx.save();
    ctx.fillStyle = '#fff';
    ctx.fillRect(bx, by, bw, bh);
    ctx.strokeStyle = AXIS;
    ctx.lineWidth = 1;
    ctx.strokeRect(bx, by, bw, bh);

    const sx = 300, l0 = 282, l1 = 316;
    // SAGA dot
    ctx.fillStyle = BLUE;
    ctx.beginPath(); ctx.arc(sx, 26.5, 1.4, 0, Math.PI * 2); ctx.fill();
    // Bin-Average
    ctx.strokeStyle = RED; ctx.lineWidth = 1.2;
    ctx.beginPath();
    ctx.moveTo(l0, 53.5); ctx.lineTo(l1, 53.5);
    ctx.moveTo(sx, 43.5); ctx.lineTo(sx, 63.5);
    ctx.moveTo(sx - 3.5, 43.5); ctx.lineTo(sx + 3.5, 43.5);
    ctx.moveTo(sx - 3.5, 63.5); ctx.lineTo(sx + 3.5, 63.5);
    ctx.stroke();
    ctx.fillStyle = RED;
    ctx.fillRect(sx - 3.3, 50.2, 6.6, 6.6);
    // Typical Error
    ctx.strokeStyle = ORANGE;
    ctx.beginPath();
    ctx.moveTo(sx, 70); ctx.lineTo(sx, 90.5);
    ctx.moveTo(sx - 3.5, 70); ctx.lineTo(sx + 3.5, 70);
    ctx.moveTo(sx - 3.5, 90.5); ctx.lineTo(sx + 3.5, 90.5);
    ctx.moveTo(290.5, 80); ctx.lineTo(309.5, 80);
    ctx.moveTo(290.5, 76.5); ctx.lineTo(290.5, 83.5);
    ctx.moveTo(309.5, 76.5); ctx.lineTo(309.5, 83.5);
    ctx.stroke();
    // Domain line
    ctx.strokeStyle = '#000'; ctx.lineWidth = 1;
    ctx.beginPath(); ctx.moveTo(l0, 106.5); ctx.lineTo(l1, 106.5); ctx.stroke();

    ctx.fillStyle = '#000';
    ctx.font = '23px ' + FONT;
    ctx.textAlign = 'left';
    ctx.textBaseline = 'alphabetic';
    ctx.fillText('SAGA database', 322, 33);
    ctx.fillText('Bin-Average', 322, 60);
    ctx.fillText('Typical Error', 322, 86);
    ctx.fillText('\u2018Reasonable\u2019 Domain', 322, 112);
    ctx.restore();
  }
};

function makePanel(canvasId, opt) {
  const datasets = [
    {
      label: 'SAGA database',
      data: opt.saga.map(p => ({ x: p[0], y: p[1] })),
      pointRadius: 1.4,
      pointBorderWidth: 0,
      pointBackgroundColor: BLUE,
      showLine: false,
      order: 3
    },
    {
      label: 'Bin-Average',
      data: toPoints(opt.binX, opt.binY),
      showLine: true,
      borderColor: RED,
      borderWidth: 1,
      pointStyle: 'rect',
      pointRadius: 4.7,
      pointBorderWidth: 0,
      pointBackgroundColor: RED,
      order: 2
    },
    {
      label: 'Reasonable Domain',
      data: toPoints(opt.upX, opt.upY),
      showLine: true, borderColor: '#000', borderWidth: 1, pointRadius: 0, order: 1
    },
    {
      label: 'Reasonable Domain lower',
      data: toPoints(opt.loX, opt.loY),
      showLine: true, borderColor: '#000', borderWidth: 1, pointRadius: 0, order: 1
    }
  ];

  const plugins = [errorBars, inwardTicks];
  if (opt.legend) plugins.push(legendBox);

  return new Chart(document.getElementById(canvasId), {
    type: 'scatter',
    data: { datasets: datasets },
    plugins: plugins,
    options: {
      responsive: false,
      animation: false,
      events: [],
      layout: { padding: { left: 0, right: opt.rightPad, top: 8, bottom: 0 } },
      plugins: {
        legend: { display: false },
        tooltip: { enabled: false },
        errorBars: { binX: opt.binX, binY: opt.binY, binErr: opt.binErr, typical: opt.typical }
      },
      scales: {
        x: {
          type: 'linear',
          min: xMin,
          max: xMax,
          afterBuildTicks: s => { s.ticks = xTicks.map(v => ({ value: v })); },
          afterFit: s => { s.height = 67; s.paddingLeft = 0; s.paddingRight = 0; },
          grid: { display: false, drawTicks: false },
          border: { display: true, color: AXIS, width: 1 },
          ticks: {
            color: AXIS, padding: 7, maxRotation: 0, autoSkip: false,
            font: { family: FONT, size: 24 },
            callback: v => fmt(v)
          },
          title: {
            display: true, text: '[Fe/H]', color: AXIS,
            font: { family: FONT, size: 24 },
            padding: { top: 0, bottom: 1 }
          }
        },
        y: {
          type: 'linear',
          min: yMin,
          max: yMax,
          afterBuildTicks: s => { s.ticks = yTicks.map(v => ({ value: v })); },
          afterFit: s => { s.width = opt.yWidth; s.paddingTop = 0; s.paddingBottom = 0; },
          grid: { display: false, drawTicks: false },
          border: { display: true, color: AXIS, width: 1 },
          ticks: {
            color: AXIS, padding: 7, autoSkip: false,
            font: { family: FONT, size: 24 },
            callback: v => fmt(v)
          },
          title: {
            display: true, text: opt.yTitle, color: AXIS,
            font: { family: FONT, size: 24 },
            padding: { top: 6, bottom: 0 }
          }
        }
      }
    }
  });
}

makePanel('mgChart', {
  saga: sagaMg, binX: mgBinFeH, binY: mgBinMean, binErr: mgBinErr,
  upX: mgDomainUpperX, upY: mgDomainUpperY, loX: mgDomainLowerX, loY: mgDomainLowerY,
  typical: mgTypical, yTitle: '[Mg/Fe]', yWidth: 87, rightPad: 24, legend: true
});

makePanel('euChart', {
  saga: sagaEu, binX: euBinFeH, binY: euBinMean, binErr: euBinErr,
  upX: euDomainUpperX, upY: euDomainUpperY, loX: euDomainLowerX, loY: euDomainLowerY,
  typical: euTypical, yTitle: '[Eu/Fe]', yWidth: 73, rightPad: 27, legend: false
});
</script>
</body>
</html>
